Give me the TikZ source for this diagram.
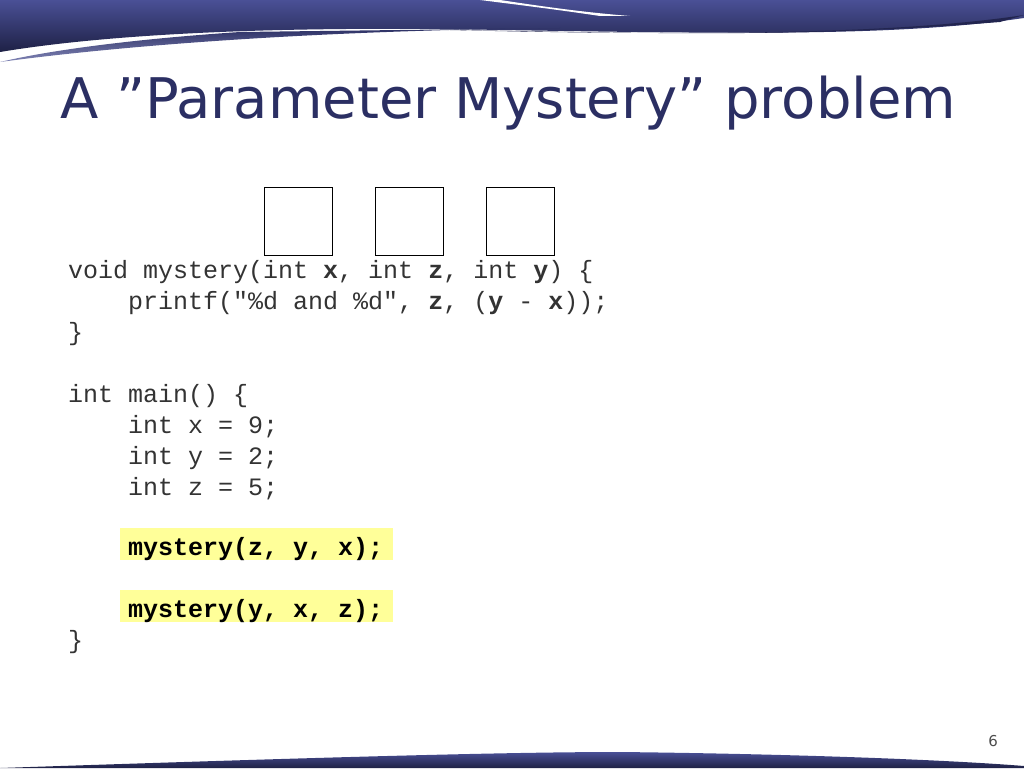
\documentclass[tikz,border=0pt]{standalone}
\usepackage{fontspec}
\setmainfont{DejaVu Sans}
\setmonofont{Liberation Mono}
\definecolor{navy}{HTML}{2B2F63}
\definecolor{navylight}{HTML}{4A5096}
\definecolor{hilite}{HTML}{FFFF99}
\tikzset{
  codeline/.style={anchor=base west, inner sep=0pt, font=\ttfamily\fontsize{25}{25}\selectfont, text=black!80},
  slotbox/.style={draw, line width=0.8pt, minimum width=68pt, minimum height=68pt, inner sep=0pt},
  mark line/.style={fill=hilite}
}
\begin{document}
\begin{tikzpicture}[x=1pt,y=-1pt]
\useasboundingbox (0,0) rectangle (1024,768);
% top banner
\shade[top color=navylight, bottom color=navy!70!black]
  (0,0) -- (1024,0) -- (1024,18) .. controls (900,36) and (750,34) .. (500,30)
  .. controls (300,26) and (120,32) .. (0,52) -- cycle;
\shade[top color=navy, bottom color=navylight!70]
  (0,62) .. controls (150,42) and (350,30) .. (560,28) -- (240,32) .. controls (150,38) and (60,48) .. (0,62) -- cycle;
\fill[navy!80!black] (450,30) .. controls (650,33) and (800,38) .. (1000,22) -- (1024,15)
  .. controls (900,34) and (700,36) .. (450,30) -- cycle;
\fill[white] (480,0) -- (500,0) .. controls (540,6) and (580,12) .. (630,16) -- (600,16) .. controls (560,10) and (520,5) .. (480,0);
% bottom bar
\shade[top color=navylight, bottom color=navy!70!black]
  (0,768) .. controls (300,758) and (500,752) .. (620,752) .. controls (800,754) and (950,760) .. (1024,766) -- (1024,768) -- cycle;
% title and page number
\node[anchor=base west, inner sep=0pt, text=navy, font=\fontsize{56}{56}\selectfont] (title) at (60,118) {A \char"22Parameter Mystery\char"22{} problem};
\node[anchor=base east, inner sep=0pt, text=black!70, font=\fontsize{15}{15}\selectfont] (page) at (998,746) {6};
% slots
\node[slotbox] (slotx) at (298,221) {};
\node[slotbox] (slotz) at (409,221) {};
\node[slotbox] (sloty) at (520,221) {};
% highlights
\fill[mark line] (120,528) rectangle (393,560);
\fill[mark line] (120,590) rectangle (393,622);
% code
\node[codeline] (l1) at (68,278) {void mystery(int \textbf{x}, int \textbf{z}, int \textbf{y}) \{};
\node[codeline] (l2) at (128,309) {printf("\%d and \%d", \textbf{z}, (\textbf{y} - \textbf{x}));};
\node[codeline] (l3) at (68,340) {\}};
\node[codeline] (l4) at (68,402) {int main() \{};
\node[codeline] (l5) at (128,433) {int x = 9;};
\node[codeline] (l6) at (128,464) {int y = 2;};
\node[codeline] (l7) at (128,495) {int z = 5;};
\node[codeline, text=black] (call1) at (128,555) {\textbf{mystery(z, y, x);}};
\node[codeline, text=black] (call2) at (128,617) {\textbf{mystery(y, x, z);}};
\node[codeline] (l8) at (68,648) {\}};
\end{tikzpicture}
\end{document}
